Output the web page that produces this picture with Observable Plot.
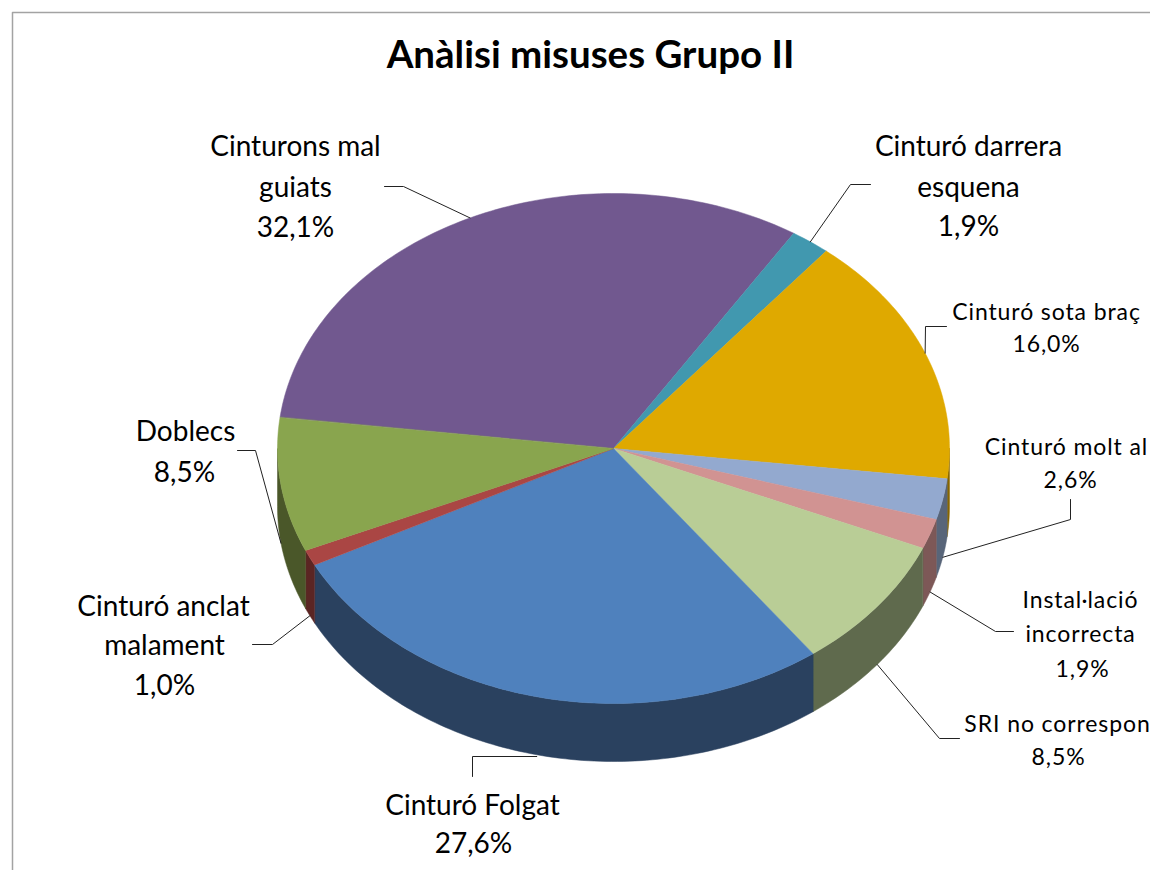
<!DOCTYPE html>
<html><head><meta charset="utf-8">
<script src="https://cdn.jsdelivr.net/npm/d3@7"></script>
<script src="https://cdn.jsdelivr.net/npm/@observablehq/plot@0.6"></script>
<style>
html,body{margin:0;padding:0;background:#fff;overflow:hidden}
svg{display:block}
.wide text{letter-spacing:0.9px}
</style></head><body><div id="chart"></div>
<script>
// Data, clockwise from the left edge of the purple slice
const categories = ["Cinturons mal guiats","Cinturó darrera esquena","Cinturó sota braç","Cinturó molt al","Instal·lació incorrecta","SRI no correspon","Cinturó Folgat","Cinturó anclat malament","Doblecs"];
const values = [32.1,1.9,16.0,2.6,1.9,8.5,27.6,1.0,8.5];
const topColors = ["#71588f","#4198af","#dfa900","#93a9cf","#d19392","#b9cd96","#4f81bd","#aa4644","#89a54e"];
const wallColors = ["#443556","#275b69","#866500","#586579","#7d5857","#5f6a4d","#2a415f","#5b2523","#4a5729"];

// Presentation
const title = "Anàlisi misuses Grupo II";
const pie = {cx:613, cy:448, rx:336, ry:255, depth:58, startDeg:277};
const labelLayout = [
 {lines:[["Cinturons mal",295,147],["guiats",295,188]], pct:[295,228], elbow:[[403,186],[384,186]]},
 {lines:[["Cinturó darrera",968,147],["esquena",968,188]], pct:[968,227], elbow:[[850,184],[870,184]]},
 {lines:[["Cinturó sota braç",1046,312]], pct:[1046,344], elbow:[[925,326],[946,326]], small:true},
 {lines:[["Cinturó molt al",1066,447]], pct:[1070,480], elbow:[[1070,519],[1070,499]], small:true},
 {lines:[["Instal·lació",1080,600],["incorrecta",1080,634]], pct:[1082,669], elbow:[[995,631],[1013,631]], small:true},
 {lines:[["SRI no correspon",1057,724]], pct:[1058,757], elbow:[[939,738],[959,738]], small:true},
 {lines:[["Cinturó Folgat",472,806]], pct:[473,844], elbow:[[472,756],[472,776]], flat:true},
 {lines:[["Cinturó anclat",163,607],["malament",164,646]], pct:[164,686], elbow:[[272,644],[252,644]]},
 {lines:[["Doblecs",185,432]], pct:[184,473], elbow:[[255,450],[237,450]]}
];

const rad = d => d * Math.PI / 180;
const total = d3.sum(values);
const fmt = v => v.toFixed(1).replace(".", ",") + "%";
const rim = (t, dy = 0) => ({x: pie.cx + pie.rx * Math.sin(rad(t)), y: pie.cy - pie.ry * Math.cos(rad(t)) + dy});

let acc = pie.startDeg;
const slices = values.map((v, i) => {
  const a = acc, b = acc + v / total * 360; acc = b;
  return {i, a, b, mid: (a + b) / 2};
});
const arc = (a, b, dy = 0) => {
  const out = [], n = Math.max(2, Math.ceil(b - a));
  for (let k = 0; k <= n; k++) out.push(rim(a + (b - a) * k / n, dy));
  return out;
};

// wall polygons: front half of the rim only (t in 90..270, modulo a full turn)
const wallPts = [];
for (const s of slices) {
  for (const off of [0, 360]) {
    const a = Math.max(s.a, 90 + off), b = Math.min(s.b, 270 + off);
    if (b > a) {
      const poly = [...arc(a, b), ...arc(a, b, pie.depth).reverse()];
      poly.forEach(p => wallPts.push({...p, key: s.i + "-" + off, color: wallColors[s.i]}));
    }
  }
}
const topPts = [];
for (const s of slices) {
  [{x: pie.cx, y: pie.cy}, ...arc(s.a, s.b)].forEach(p => topPts.push({...p, key: s.i, color: topColors[s.i]}));
}

// leaders start at the outer silhouette at each slice's mid angle
const leaderPts = [];
slices.forEach((s, i) => {
  const t = ((s.mid % 360) + 360) % 360;
  const l = labelLayout[i];
  const start = rim(s.mid, t > 90 && t < 270 ? pie.depth : 0);
  if (l.flat) start.y = l.elbow[0][1];
  [start, ...l.elbow.map(([x, y]) => ({x, y}))].forEach(p => leaderPts.push({...p, key: i}));
});

const textRows = (small) => labelLayout.flatMap((l, i) => l.small === small ? [
  ...l.lines.map(([text, x, y]) => ({text, x, y})),
  {text: fmt(values[i]), x: l.pct[0], y: l.pct[1]}
] : []);

const frame = [{x: 1150, y: 12}, {x: 12, y: 12}, {x: 12, y: 870}];

const chart = Plot.plot({
  width: 1150, height: 870,
  margin: 0,
  x: {domain: [0, 1150], range: [0, 1150], axis: null},
  y: {domain: [0, 870], range: [0, 870], axis: null},
  style: {fontFamily: "Lato", background: "#fff"},
  marks: [
    Plot.line(frame, {x: "x", y: "y", stroke: "#a3a3a3", strokeWidth: 1.5, curve: "linear"}),
    Plot.line(wallPts, {x: "x", y: "y", z: "key", fill: "color", stroke: "color", strokeWidth: 0.5, curve: "linear-closed"}),
    Plot.line(topPts, {x: "x", y: "y", z: "key", fill: "color", stroke: "color", strokeWidth: 0.5, curve: "linear-closed"}),
    Plot.line(leaderPts, {x: "x", y: "y", z: "key", stroke: "#222", strokeWidth: 1, curve: "linear"}),
    Plot.text([{text: title}], {x: () => 590, y: () => 55, text: "text", fontSize: 38.5, fontWeight: 700, fill: "#000", fontFamily: "Lato"}),
    Plot.text(textRows(undefined), {x: "x", y: "y", text: "text", fontSize: 28, fill: "#000", fontFamily: "Lato"}),
    Plot.text(textRows(true), {x: "x", y: "y", text: "text", fontSize: 23, fill: "#000", fontFamily: "Lato", className: "wide"})
  ]
});
document.getElementById("chart").append(chart);
</script></body></html>
